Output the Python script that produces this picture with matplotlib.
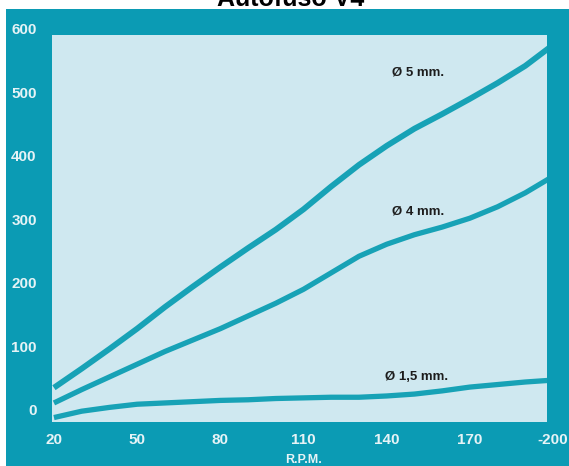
import numpy as np
import matplotlib.pyplot as plt
from matplotlib.patches import Rectangle

# data
rpm = [20, 30, 40, 50, 60, 70, 80, 90, 100, 110, 120, 130, 140, 150, 160, 170, 180, 190, 200]
d5 = [35, 65, 96, 128, 162, 194, 225, 255, 284, 316, 352, 386, 416, 443, 466, 490, 515, 542, 575]
d4 = [11, 32, 52, 72, 92, 110, 128, 148, 168, 190, 216, 242, 261, 276, 288, 302, 320, 342, 368]
d15 = [-12, -2, 4, 9, 11, 13, 15, 16, 18, 19, 20, 20, 22, 25, 30, 36, 40, 44, 47]

xticks = [20, 50, 80, 110, 140, 170, 200]
xtickLabels = ['20', '50', '80', '110', '140', '170', '-200']
yticks = [0, 100, 200, 300, 400, 500, 600]

teal = '#0b9bb4'
light = '#cfe8f0'
lineColor = '#17a2b6'
tickColor = '#e6f3f6'

fig = plt.figure(figsize=(5.69, 4.66), dpi=100)
fig.patches.append(Rectangle((6/569, 0), 1, (466-9)/466, transform=fig.transFigure,
                             facecolor=teal, edgecolor='none', zorder=-10))
fig.text(0.51, 1 - 6/466, 'Autofuso V4', ha='center', va='baseline',
         fontsize=18, fontweight='bold', family='Liberation Sans', color='black')

ax = fig.add_axes([52/569, 44/466, 503/569, 393/466])
ax.set_zorder(1)
ax.set_facecolor(teal)
ax.set_xlim(19.3, 200.7)
ax.set_ylim(-19, 600)

# light plotting area
area = Rectangle((19.3, -19), 197.8 - 19.3, 590 + 19, facecolor=light, edgecolor='none', zorder=0)
ax.add_patch(area)

for vals, lw in [(d5, 4.2), (d4, 3.8), (d15, 3.8)]:
    line, = ax.plot(rpm, vals, color=lineColor, lw=lw, solid_capstyle='butt',
                    solid_joinstyle='round', zorder=2)
    line.set_clip_path(area)

labelFont = dict(fontsize=9.5, color='#1c1c1c', family='Liberation Sans',
                 fontweight='bold', va='center')
ax.text(142, 531, 'Ø 5 mm.', **labelFont)
ax.text(142, 312, 'Ø 4 mm.', **labelFont)
ax.text(139.5, 52, 'Ø 1,5 mm.', **labelFont)

for s in ax.spines.values():
    s.set_visible(False)
ax.set_xticks(xticks, labels=xtickLabels)
ax.set_yticks(yticks)
ax.tick_params(length=0, colors=tickColor, labelsize=11)
ax.tick_params(axis='y', pad=11)
ax.tick_params(axis='x', pad=8)
for lab in ax.get_xticklabels() + ax.get_yticklabels():
    lab.set_fontweight('bold')
    lab.set_family('Liberation Sans')
ax.set_xlabel('R.P.M.', fontsize=9, fontweight='bold', color=tickColor,
              family='Liberation Sans', labelpad=5)

fig.savefig('out.png', dpi=100)
